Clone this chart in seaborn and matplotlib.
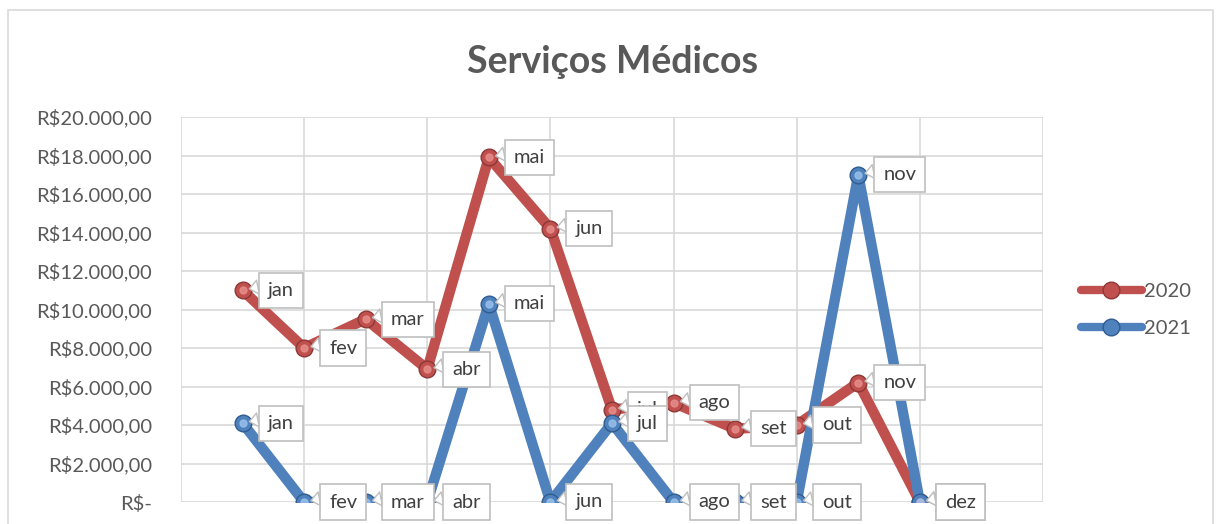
import pandas as pd
import matplotlib.pyplot as plt
import seaborn as sns
from matplotlib.ticker import FuncFormatter
from matplotlib.patches import Rectangle
from matplotlib.lines import Line2D

sns.set_theme(style="white")
plt.rcParams['font.family'] = ['Lato', 'DejaVu Sans']

# --- dados ---
meses = ['jan', 'fev', 'mar', 'abr', 'mai', 'jun', 'jul', 'ago', 'set', 'out', 'nov', 'dez']
mes_num = list(range(1, 13))
valores_2020 = [11000, 8000, 9500, 6900, 17900, 14200, 4800, 5150, 3800, 4000, 6200, 0]
valores_2021 = [4100, 0, 0, 0, 10300, 0, 4100, 0, 0, 0, 17000, 0]
y_ticks = list(range(0, 20001, 2000))

cores = {'2020': '#C0504D', '2021': '#4F81BD'}
bordas = {'2020': '#8C3836', '2021': '#2F5C8F'}
brilho = {'2020': '#E8908D', '2021': '#9CC3EE'}

df = pd.concat([
    pd.DataFrame({'mes': meses, 'x': mes_num, 'valor': valores_2020, 'ano': '2020'}),
    pd.DataFrame({'mes': meses, 'x': mes_num, 'valor': valores_2021, 'ano': '2021'}),
])


def fmt_real(v, pos):
    if v == 0:
        return 'R$-'
    s = f"{v:,.2f}".replace(',', 'X').replace('.', ',').replace('X', '.')
    return 'R$' + s


fig = plt.figure(figsize=(12.18, 5.24), dpi=100)
ax = fig.add_axes([181 / 1218, 22 / 524, 862 / 1218, 385 / 524])

# moldura externa do gráfico
fig.patches.append(Rectangle((8 / 1218, -0.05), 1205 / 1218, 1.05 - 10 / 524,
                             transform=fig.transFigure, fill=False,
                             edgecolor='#D9D9D9', linewidth=1.2))

handles = []
for ano in ['2020', '2021']:
    sub = df[df['ano'] == ano]
    sns.lineplot(data=sub, x='x', y='valor', ax=ax, color=cores[ano],
                 linewidth=7.5, marker='o', markersize=12,
                 markeredgecolor=bordas[ano], markeredgewidth=1.0,
                 solid_capstyle='round', zorder=3)
    # pequeno brilho nas esferas
    ax.plot(sub['x'], sub['valor'], linestyle='none', marker='o', markersize=5,
            color=brilho[ano], alpha=0.8, zorder=4)
    handles.append(Line2D([0], [0], color=cores[ano], linewidth=6, marker='o',
                          markersize=12, markeredgecolor=bordas[ano],
                          solid_capstyle='round', label=ano))

# rótulos de dados com balão
for ano in ['2020', '2021']:
    sub = df[df['ano'] == ano]
    for _, r in sub.iterrows():
        ax.annotate(r['mes'], xy=(r['x'], r['valor']), xytext=(18, 0),
                    textcoords='offset points', ha='left', va='center',
                    fontsize=14.5, color='#404040', zorder=6,
                    bbox=dict(boxstyle='square,pad=0.45', fc='white',
                              ec='#BFBFBF', lw=1.2),
                    arrowprops=dict(arrowstyle='wedge,tail_width=0.7',
                                    fc='white', ec='#BFBFBF', lw=1.0,
                                    relpos=(0, 0.8), shrinkA=0, shrinkB=5))

ax.set_xlim(0, 14)
ax.set_ylim(0, 20000)
ax.set_xticks(range(0, 15, 2))
ax.set_xticklabels([])
ax.set_yticks(y_ticks)
ax.yaxis.set_major_formatter(FuncFormatter(fmt_real))
ax.tick_params(axis='y', length=0, pad=21, labelsize=14.5, labelcolor='#595959')
ax.tick_params(axis='x', length=0)
ax.grid(True, color='#D9D9D9', linewidth=1.2)
ax.set_axisbelow(True)
for sp in ax.spines.values():
    sp.set_visible(False)
ax.set_xlabel('')
ax.set_ylabel('')
if ax.get_legend():
    ax.get_legend().remove()

fig.text(0.503, 1 - 62 / 524, 'Serviços Médicos', ha='center', va='center',
         fontsize=27, fontweight='bold', color='#595959')

fig.legend(handles=handles, loc='center left', bbox_to_anchor=(1063 / 1218, 1 - 310 / 524),
           frameon=False, fontsize=14.5, labelcolor='#595959', handlelength=3.0,
           handletextpad=0.1, labelspacing=1.0)

fig.savefig('out.png', dpi=100)
